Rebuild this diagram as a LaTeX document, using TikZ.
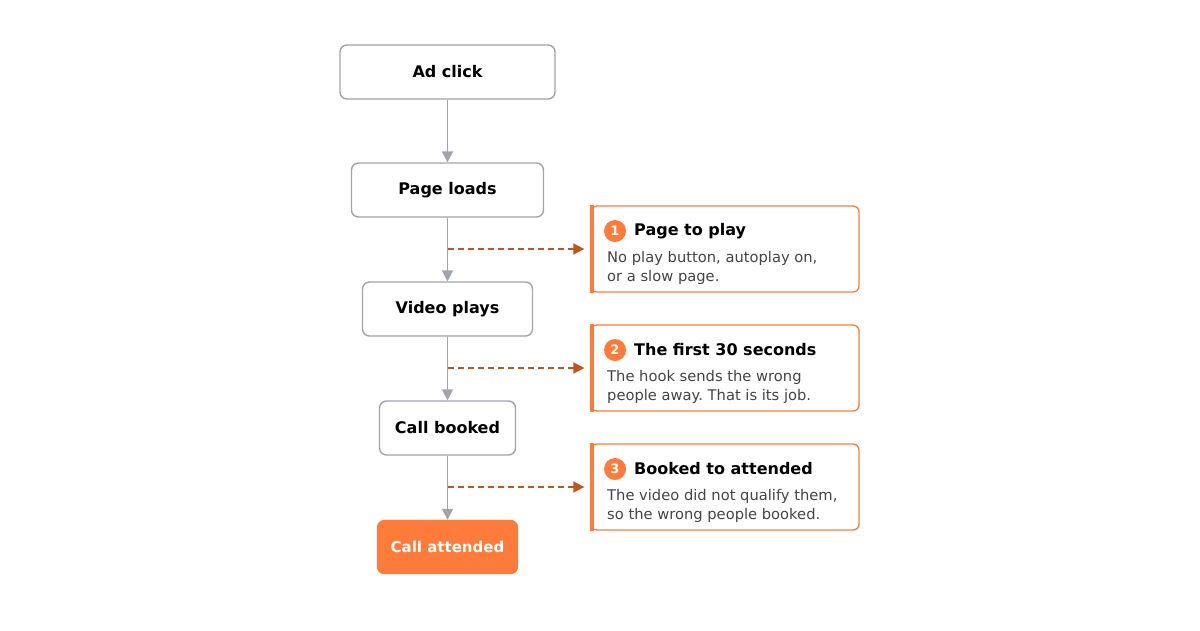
\documentclass[tikz,border=0pt]{standalone}
\usepackage{fontspec}
\setmainfont{DejaVu Sans}
\frenchspacing
\usetikzlibrary{arrows.meta,positioning}
\definecolor{edgegray}{HTML}{A0A4AE}
\definecolor{accent}{HTML}{FF7B39}
\definecolor{dashbrown}{HTML}{C0561E}
\definecolor{bodytext}{HTML}{444444}
\tikzset{>={Triangle[length=11pt,width=11pt]}}
\tikzset{
  stage/.style={draw=edgegray,line width=1.4pt,rounded corners=7pt,fill=white,
    minimum height=54pt,font=\fontsize{16}{18}\selectfont\bfseries,inner sep=0pt},
  final/.style={stage,draw=accent,fill=accent,text=white,font=\fontsize{15}{18}\selectfont\bfseries},
  flow/.style={->,draw=edgegray,line width=1.8pt},
  leak/.style={->,draw=dashbrown,line width=1.6pt,dash pattern=on 6pt off 4pt},
  callout/.style={draw=accent,line width=1.3pt,rounded corners=6pt,fill=white,
    minimum width=268pt,minimum height=86pt,inner sep=0pt},
  badge/.style={circle,fill=accent,text=white,minimum size=22pt,inner sep=0pt,
    font=\fontsize{13}{13}\selectfont\bfseries},
  ctitle/.style={anchor=west,inner sep=0pt,font=\fontsize{16}{18}\selectfont\bfseries},
  cbody/.style={anchor=north west,inner sep=0pt,align=left,text=bodytext,
    font=\fontsize{14.7}{19}\selectfont}
}
\begin{document}
\begin{tikzpicture}[x=1pt,y=-1pt]
\useasboundingbox (0,0) rectangle (1200,630);
% funnel stages
\node[stage,minimum width=215pt] (ad) at (447.5,72) {Ad click};
\node[stage,minimum width=192pt] (page) at (447.5,190) {Page loads};
\node[stage,minimum width=170pt] (video) at (447.5,309) {Video plays};
\node[stage,minimum width=136pt] (booked) at (447.5,428) {Call booked};
\node[final,minimum width=140pt,minimum height=53pt] (attended) at (447.5,547) {Call attended};
\draw[flow] (ad) -- (page);
\draw[flow] (page) -- (video);
\draw[flow] (video) -- (booked);
\draw[flow] (booked) -- (attended);
% leak points
\foreach \i/\y/\title/\body in {
  1/249/Page to play/{No play button, autoplay on,\\or a slow page.},
  2/368/The first 30 seconds/{The hook sends the wrong\\people away. That is its job.},
  3/487/Booked to attended/{The video did not qualify them,\\so the wrong people booked.}}{
  \node[callout] (box\i) at (725,\y) {};
  \fill[accent] (box\i.north west) rectangle ([xshift=4pt]box\i.south west);
  \node[badge] (num\i) at (615,\y-18) {\i};
  \node[ctitle] (title\i) at (634,\y-18) {\title};
  \node[cbody] (body\i) at (607,\y+2) {\body};
  \coordinate (tap\i) at (447.5,\y);
  \draw[leak] (tap\i) -- ([xshift=-6pt]box\i.west);
}
\end{tikzpicture}
\end{document}
